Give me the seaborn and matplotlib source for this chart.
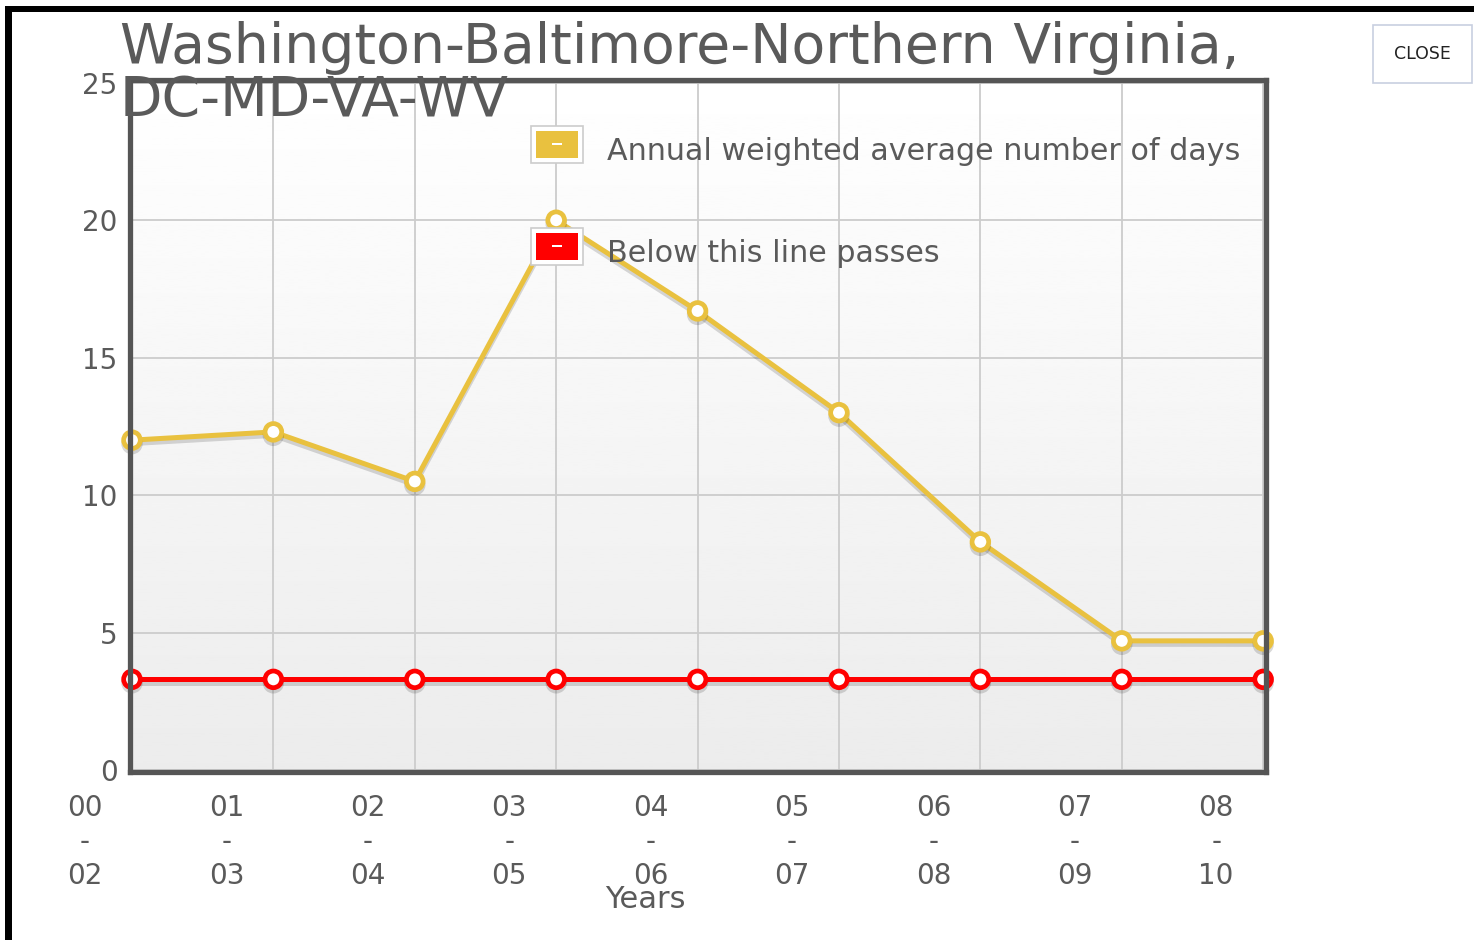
import numpy as np
import pandas as pd
import matplotlib
matplotlib.use("Agg")
import matplotlib.pyplot as plt
import matplotlib.patheffects as pe
from matplotlib.patches import Rectangle
from matplotlib.transforms import ScaledTranslation
import seaborn as sns

# ---- data ----
periods = ["00\n-\n02", "01\n-\n03", "02\n-\n04", "03\n-\n05", "04\n-\n06",
           "05\n-\n07", "06\n-\n08", "07\n-\n09", "08\n-\n10"]
avg_days = [12.0, 12.3, 10.5, 20.0, 16.7, 13.0, 8.3, 4.7, 4.7]
pass_line = [3.3, 3.3, 3.3, 3.3, 3.3, 3.3, 3.3, 3.3, 3.3]
series_names = ["Annual weighted average number of days", "Below this line passes"]
y_ticks = [0, 5, 10, 15, 20, 25]
title_lines = ["Washington-Baltimore-Northern Virginia,", "DC-MD-VA-WV"]
x_title = "Years"

GOLD = "#E9C13F"
RED = "#FF0000"
TXT = "#5a5a5a"

sns.set_theme(style="white")
plt.rcParams["font.family"] = ["DejaVu Sans"]

W, H = 1474, 940
fig = plt.figure(figsize=(W / 100, H / 100), dpi=100)

def fx(px):
    return px / W

def fy(py):
    return 1 - py / H

ax = fig.add_axes([fx(130), fy(772), fx(1266) - fx(130), fy(80) - fy(772)])

idx = np.arange(len(periods))
df = pd.DataFrame({
    "x": np.concatenate([idx, idx]),
    "y": avg_days + pass_line,
    "series": [series_names[0]] * len(idx) + [series_names[1]] * len(idx),
})

# gradient background
grad = np.linspace(1.0, 0.925, 256).reshape(-1, 1)
ax.imshow(grad, cmap="gray", vmin=0, vmax=1, aspect="auto",
          extent=[-0.02, 8.03, -0.1, 25.2], origin="upper", zorder=0)

shadow = [pe.SimpleLineShadow(offset=(0, -2.5), shadow_color="#000000", alpha=0.15),
          pe.Normal()]
sns.lineplot(data=df, x="x", y="y", hue="series",
             palette={series_names[0]: GOLD, series_names[1]: RED},
             hue_order=series_names[::-1],
             linewidth=3.6, marker="o", markersize=12, markerfacecolor="white",
             markeredgewidth=3.4, ax=ax, legend=False, zorder=5)
for ln in ax.lines:
    ln.set_markeredgecolor(ln.get_color())
    ln.set_path_effects(shadow)
    ln.set_clip_on(False)

ax.set_xlim(-0.014, 8.02)
ax.set_ylim(-0.07, 25.1)
ax.set_yticks(y_ticks)
ax.set_yticklabels([str(v) for v in y_ticks])
ax.set_xticks(idx)
ax.set_xticklabels(periods, linespacing=1.26)
ax.tick_params(axis="both", length=0, labelsize=20, labelcolor=TXT)
ax.tick_params(axis="y", pad=9)
ax.tick_params(axis="x", pad=16)
off = ScaledTranslation(-0.47, 0, fig.dpi_scale_trans)
for lab in ax.get_xticklabels():
    lab.set_transform(lab.get_transform() + off)
ax.set_xlabel("")
ax.set_ylabel("")

ax.grid(True, color="#cccccc", linewidth=1.3, zorder=1)
ax.set_axisbelow(True)
for s in ax.spines.values():
    s.set_visible(True)
    s.set_color("#555555")
    s.set_linewidth(3.8)
    s.set_zorder(6)

# x axis title
fig.text(fx(645), fy(899), x_title, ha="center", va="center", fontsize=22, color=TXT)

# title
fig.text(fx(120), fy(48), title_lines[0], ha="left", va="center", fontsize=39.8, color=TXT)
fig.text(fx(120), fy(101), title_lines[1], ha="left", va="center", fontsize=39.8, color=TXT)

# legend
for (ytop, col, name) in [(126, GOLD, series_names[0]), (228, RED, series_names[1])]:
    fig.add_artist(Rectangle((fx(531), fy(ytop + 37)), fx(583) - fx(531), fy(ytop) - fy(ytop + 37),
                             transform=fig.transFigure, facecolor="white",
                             edgecolor="#cccccc", linewidth=1.2, zorder=7))
    fig.add_artist(Rectangle((fx(536), fy(ytop + 32)), fx(578) - fx(536), fy(ytop + 5) - fy(ytop + 32),
                             transform=fig.transFigure, facecolor=col,
                             edgecolor="none", zorder=8))
    fig.add_artist(Rectangle((fx(552), fy(ytop + 19)), fx(562) - fx(552), fy(ytop + 17) - fy(ytop + 19),
                             transform=fig.transFigure, facecolor="white",
                             edgecolor="none", zorder=9))
    fig.text(fx(607), fy(ytop + 26), name, ha="left", va="center",
             fontsize=21.7, color=TXT, zorder=9)

# close button
fig.add_artist(Rectangle((fx(1373), fy(83)), fx(1472) - fx(1373), fy(25) - fy(83),
                         transform=fig.transFigure, facecolor="white",
                         edgecolor="#c8cfe0", linewidth=1.2))
fig.text(fx(1422), fy(54), "CLOSE", ha="center", va="center", fontsize=12.5, color="#222222")

# screenshot black frame
fig.add_artist(Rectangle((fx(5), 0), fx(12) - fx(5), fy(6), transform=fig.transFigure,
                         facecolor="black", edgecolor="none"))
fig.add_artist(Rectangle((fx(5), fy(12)), 1 - fx(5), fy(6) - fy(12), transform=fig.transFigure,
                         facecolor="black", edgecolor="none"))

fig.savefig("out.png", dpi=100, facecolor="white")
